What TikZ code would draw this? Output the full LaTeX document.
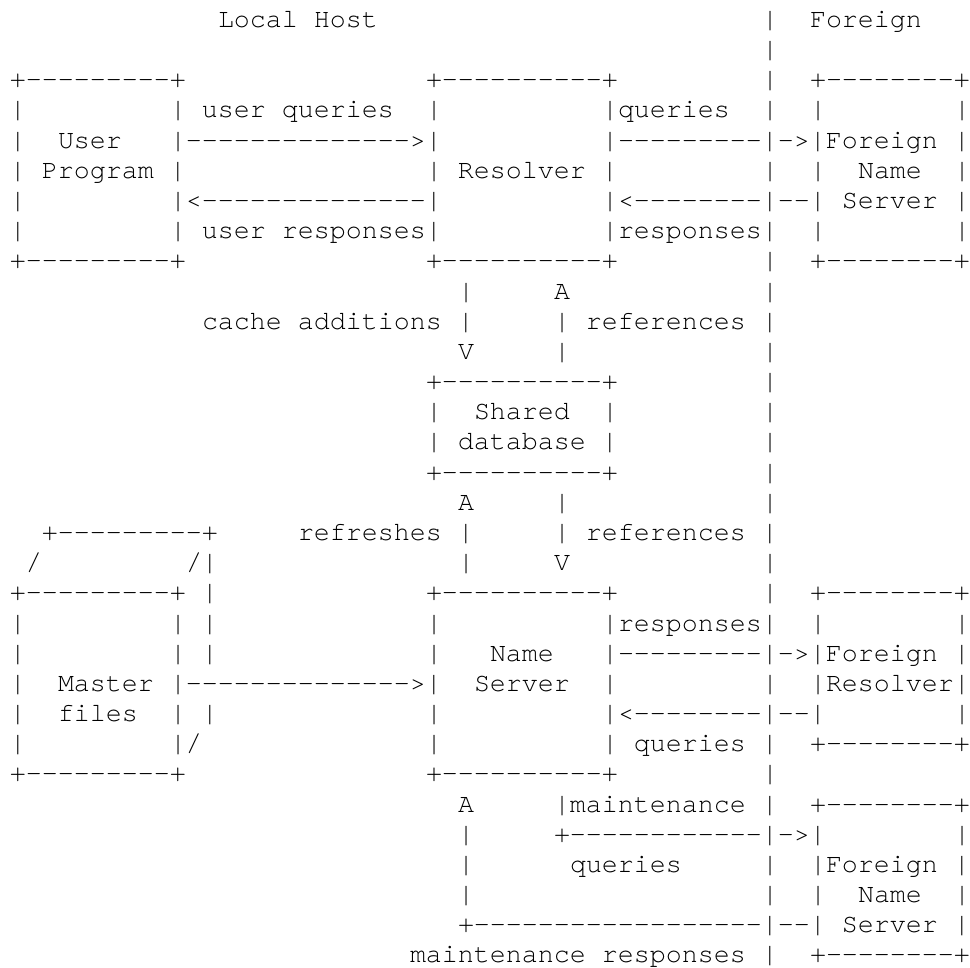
\documentclass[tikz,border=0pt]{standalone}
\usepackage{fontspec}
\newfontfamily\rfcmono[Ligatures=NoCommon]{TeX Gyre Cursor}
\begin{document}
\begin{tikzpicture}[x=8pt, y=-15.09pt,
  asc/.style={anchor=base west, inner sep=0pt, outer sep=0pt,
    font=\rfcmono\fontsize{13.33pt}{15pt}\selectfont}]
\fill[white] (-5pt,13.7pt) rectangle (480pt,-469.8pt);
\node[asc] (r0a) at (13,0) {Local Host};
\node[asc] (r0b) at (47,0) {|};
\node[asc] (r0c) at (50,0) {Foreign};
\node[asc] (r1a) at (47,1) {|};
\node[asc] (r2a) at (0,2) {+---------+};
\node[asc] (r2b) at (26,2) {+----------+};
\node[asc] (r2c) at (47,2) {|};
\node[asc] (r2d) at (50,2) {+--------+};
\node[asc] (r3a) at (0,3) {|};
\node[asc] (r3b) at (10,3) {| user queries};
\node[asc] (r3c) at (26,3) {|};
\node[asc] (r3d) at (37,3) {|queries};
\node[asc] (r3e) at (47,3) {|};
\node[asc] (r3f) at (50,3) {|};
\node[asc] (r3g) at (59,3) {|};
\node[asc] (r4a) at (0,4) {|};
\node[asc] (r4b) at (3,4) {User};
\node[asc] (r4c) at (10,4) {|-------------->|};
\node[asc] (r4d) at (37,4) {|---------|->|Foreign |};
\node[asc] (r5a) at (0,5) {| Program |};
\node[asc] (r5b) at (26,5) {| Resolver |};
\node[asc] (r5c) at (47,5) {|};
\node[asc] (r5d) at (50,5) {|};
\node[asc] (r5e) at (53,5) {Name};
\node[asc] (r5f) at (59,5) {|};
\node[asc] (r6a) at (0,6) {|};
\node[asc] (r6b) at (10,6) {|<--------------|};
\node[asc] (r6c) at (37,6) {|<--------|--| Server |};
\node[asc] (r7a) at (0,7) {|};
\node[asc] (r7b) at (10,7) {| user responses|};
\node[asc] (r7c) at (37,7) {|responses|};
\node[asc] (r7d) at (50,7) {|};
\node[asc] (r7e) at (59,7) {|};
\node[asc] (r8a) at (0,8) {+---------+};
\node[asc] (r8b) at (26,8) {+----------+};
\node[asc] (r8c) at (47,8) {|};
\node[asc] (r8d) at (50,8) {+--------+};
\node[asc] (r9a) at (28,9) {|};
\node[asc] (r9b) at (34,9) {A};
\node[asc] (r9c) at (47,9) {|};
\node[asc] (r10a) at (12,10) {cache additions |};
\node[asc] (r10b) at (34,10) {| references |};
\node[asc] (r11a) at (28,11) {V};
\node[asc] (r11b) at (34,11) {|};
\node[asc] (r11c) at (47,11) {|};
\node[asc] (r12a) at (26,12) {+----------+};
\node[asc] (r12b) at (47,12) {|};
\node[asc] (r13a) at (26,13) {|};
\node[asc] (r13b) at (29,13) {Shared};
\node[asc] (r13c) at (37,13) {|};
\node[asc] (r13d) at (47,13) {|};
\node[asc] (r14a) at (26,14) {| database |};
\node[asc] (r14b) at (47,14) {|};
\node[asc] (r15a) at (26,15) {+----------+};
\node[asc] (r15b) at (47,15) {|};
\node[asc] (r16a) at (28,16) {A};
\node[asc] (r16b) at (34,16) {|};
\node[asc] (r16c) at (47,16) {|};
\node[asc] (r17a) at (2,17) {+---------+};
\node[asc] (r17b) at (18,17) {refreshes |};
\node[asc] (r17c) at (34,17) {| references |};
\node[asc] (r18a) at (1,18) {/};
\node[asc] (r18b) at (11,18) {/|};
\node[asc] (r18c) at (28,18) {|};
\node[asc] (r18d) at (34,18) {V};
\node[asc] (r18e) at (47,18) {|};
\node[asc] (r19a) at (0,19) {+---------+ |};
\node[asc] (r19b) at (26,19) {+----------+};
\node[asc] (r19c) at (47,19) {|};
\node[asc] (r19d) at (50,19) {+--------+};
\node[asc] (r20a) at (0,20) {|};
\node[asc] (r20b) at (10,20) {| |};
\node[asc] (r20c) at (26,20) {|};
\node[asc] (r20d) at (37,20) {|responses|};
\node[asc] (r20e) at (50,20) {|};
\node[asc] (r20f) at (59,20) {|};
\node[asc] (r21a) at (0,21) {|};
\node[asc] (r21b) at (10,21) {| |};
\node[asc] (r21c) at (26,21) {|};
\node[asc] (r21d) at (30,21) {Name};
\node[asc] (r21e) at (37,21) {|---------|->|Foreign |};
\node[asc] (r22a) at (0,22) {|};
\node[asc] (r22b) at (3,22) {Master};
\node[asc] (r22c) at (10,22) {|-------------->|};
\node[asc] (r22d) at (29,22) {Server};
\node[asc] (r22e) at (37,22) {|};
\node[asc] (r22f) at (47,22) {|};
\node[asc] (r22g) at (50,22) {|Resolver|};
\node[asc] (r23a) at (0,23) {|};
\node[asc] (r23b) at (3,23) {files};
\node[asc] (r23c) at (10,23) {| |};
\node[asc] (r23d) at (26,23) {|};
\node[asc] (r23e) at (37,23) {|<--------|--|};
\node[asc] (r23f) at (59,23) {|};
\node[asc] (r24a) at (0,24) {|};
\node[asc] (r24b) at (10,24) {|/};
\node[asc] (r24c) at (26,24) {|};
\node[asc] (r24d) at (37,24) {| queries |};
\node[asc] (r24e) at (50,24) {+--------+};
\node[asc] (r25a) at (0,25) {+---------+};
\node[asc] (r25b) at (26,25) {+----------+};
\node[asc] (r25c) at (47,25) {|};
\node[asc] (r26a) at (28,26) {A};
\node[asc] (r26b) at (34,26) {|maintenance |};
\node[asc] (r26c) at (50,26) {+--------+};
\node[asc] (r27a) at (28,27) {|};
\node[asc] (r27b) at (34,27) {+------------|->|};
\node[asc] (r27c) at (59,27) {|};
\node[asc] (r28a) at (28,28) {|};
\node[asc] (r28b) at (35,28) {queries};
\node[asc] (r28c) at (47,28) {|};
\node[asc] (r28d) at (50,28) {|Foreign |};
\node[asc] (r29a) at (28,29) {|};
\node[asc] (r29b) at (47,29) {|};
\node[asc] (r29c) at (50,29) {|};
\node[asc] (r29d) at (53,29) {Name};
\node[asc] (r29e) at (59,29) {|};
\node[asc] (r30a) at (28,30) {+------------------|--| Server |};
\node[asc] (r31a) at (25,31) {maintenance responses |};
\node[asc] (r31b) at (50,31) {+--------+};
\end{tikzpicture}
\end{document}
